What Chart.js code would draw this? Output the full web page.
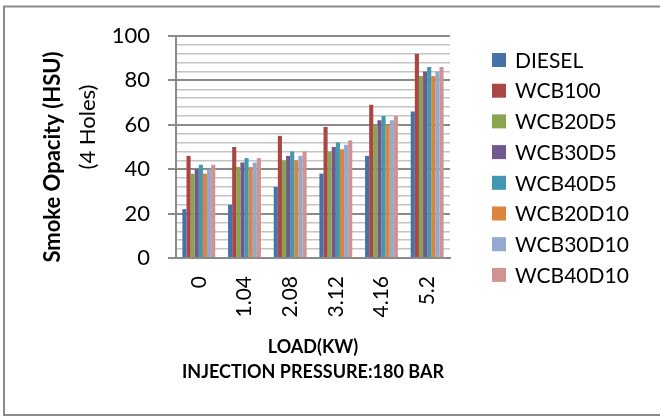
<!DOCTYPE html>
<html>
<head>
<meta charset="utf-8">
<script src="https://cdn.jsdelivr.net/npm/chart.js@4"></script>
<style>
  html, body { margin: 0; padding: 0; background: #fff; }
  #wrap { width: 660px; height: 417px; position: relative; }
</style>
</head>
<body>
<div id="wrap"><canvas id="smokeChart"></canvas></div>
<script>
// cargas (kW) en el eje X
const loads = ['0', '1.04', '2.08', '3.12', '4.16', '5.2'];

// opacidad de humo (HSU) por combustible
const diesel   = [22, 24, 32, 38, 46, 66];
const wcb100   = [46, 50, 55, 59, 69, 92];
const wcb20d5  = [38, 41, 44, 48, 60, 82];
const wcb30d5  = [40, 43, 46, 50, 62, 84];
const wcb40d5  = [42, 45, 48, 52, 64, 86];
const wcb20d10 = [38, 41, 44, 49, 60, 82];
const wcb30d10 = [40, 43, 46, 51, 62, 84];
const wcb40d10 = [42, 45, 48, 53, 64, 86];

const yMin = 0, yMax = 100, yStep = 4, yLabelStep = 20;

const FONT = 'Lato, "Open Sans", sans-serif';

function serie(label, data, color) {
    return {
        label: label,
        data: data,
        backgroundColor: color,
        borderWidth: 0,
        categoryPercentage: 0.72,
        barPercentage: 1.0
    };
}

// marco gris y fondo blanco
const framePlugin = {
    id: 'frame',
    beforeDraw: function(chart) {
        const ctx = chart.ctx;
        ctx.save();
        ctx.fillStyle = '#fff';
        ctx.fillRect(0, 0, chart.width, chart.height);
        ctx.strokeStyle = '#8a8a8a';
        ctx.lineWidth = 2;
        ctx.strokeRect(4, 6.5, 700, 408.5);
        ctx.restore();
    }
};

// titulo del eje Y en dos lineas (negrita + normal)
const yTitlePlugin = {
    id: 'yTitle',
    afterDraw: function(chart) {
        const ctx = chart.ctx;
        ctx.save();
        ctx.fillStyle = '#000';
        ctx.textAlign = 'center';
        ctx.textBaseline = 'middle';
        ctx.translate(53, 157);
        ctx.rotate(-Math.PI / 2);
        ctx.font = 'bold 22px ' + FONT;
        ctx.fillText('Smoke Opacity (HSU)', 0, 0);
        ctx.restore();

        ctx.save();
        ctx.fillStyle = '#000';
        ctx.textAlign = 'center';
        ctx.textBaseline = 'middle';
        ctx.translate(88, 127);
        ctx.rotate(-Math.PI / 2);
        ctx.font = '22px ' + FONT;
        ctx.fillText('(4 Holes)', 0, 0);
        ctx.restore();
    }
};

// leyenda a la derecha
const legendPlugin = {
    id: 'sideLegend',
    afterDraw: function(chart) {
        const ctx = chart.ctx;
        const sets = chart.data.datasets;
        ctx.save();
        ctx.font = '21px ' + FONT;
        ctx.textBaseline = 'middle';
        ctx.textAlign = 'left';
        sets.forEach(function(ds, i) {
            const cy = 60 + i * 30.7;
            ctx.fillStyle = ds.backgroundColor;
            ctx.fillRect(492, cy - 7, 14, 14);
            ctx.fillStyle = '#000';
            ctx.fillText(ds.label, 515, cy + 1);
        });
        ctx.restore();
    }
};

window.addEventListener('load', function() {
    const canvas = document.getElementById('smokeChart');
    const ctx = canvas.getContext('2d');

    new Chart(ctx, {
        type: 'bar',
        data: {
            labels: loads,
            datasets: [
                serie('DIESEL', diesel, '#4572A7'),
                serie('WCB100', wcb100, '#AA4643'),
                serie('WCB20D5', wcb20d5, '#89A54E'),
                serie('WCB30D5', wcb30d5, '#71588F'),
                serie('WCB40D5', wcb40d5, '#4198AF'),
                serie('WCB20D10', wcb20d10, '#DB843D'),
                serie('WCB30D10', wcb30d10, '#93A9CF'),
                serie('WCB40D10', wcb40d10, '#D19392')
            ]
        },
        options: {
            responsive: true,
            maintainAspectRatio: false,
            animation: false,
            devicePixelRatio: 1,
            layout: {
                padding: { left: 0, top: 36, right: 210, bottom: 0 }
            },
            plugins: {
                legend: { display: false },
                tooltip: { enabled: false }
            },
            scales: {
                y: {
                    min: yMin,
                    max: yMax,
                    afterFit: function(scale) { scale.width = 176; },
                    ticks: {
                        stepSize: yStep,
                        autoSkip: false,
                        padding: 18,
                        color: '#000',
                        font: { family: FONT, size: 22 },
                        callback: function(v) { return v % yLabelStep === 0 ? v : ''; }
                    },
                    grid: {
                        tickLength: 8,
                        color: function(c) {
                            return c.tick.value % yLabelStep === 0 ? '#8a8a8a' : '#c4c4c4';
                        },
                        lineWidth: function(c) {
                            return c.tick.value % yLabelStep === 0 ? 2 : 1.5;
                        },
                        tickColor: function(c) {
                            return c.tick.value % yLabelStep === 0 ? '#8a8a8a' : 'rgba(0,0,0,0)';
                        }
                    },
                    border: { display: true, color: '#8a8a8a', width: 2 }
                },
                x: {
                    afterFit: function(scale) { scale.height = 417 - 258; },
                    ticks: {
                        minRotation: 90,
                        maxRotation: 90,
                        padding: 18,
                        color: '#000',
                        font: { family: FONT, size: 21 }
                    },
                    grid: { display: false, drawTicks: false },
                    border: { display: true, color: '#8a8a8a', width: 2 },
                    title: {
                        display: true,
                        text: ['LOAD(KW)', 'INJECTION PRESSURE:180 BAR'],
                        color: '#000',
                        font: { family: FONT, size: 18, weight: 'bold', lineHeight: 1.4 },
                        padding: { top: 0, bottom: 32 }
                    }
                }
            }
        },
        plugins: [framePlugin, yTitlePlugin, legendPlugin]
    });
});
</script>
</body>
</html>
